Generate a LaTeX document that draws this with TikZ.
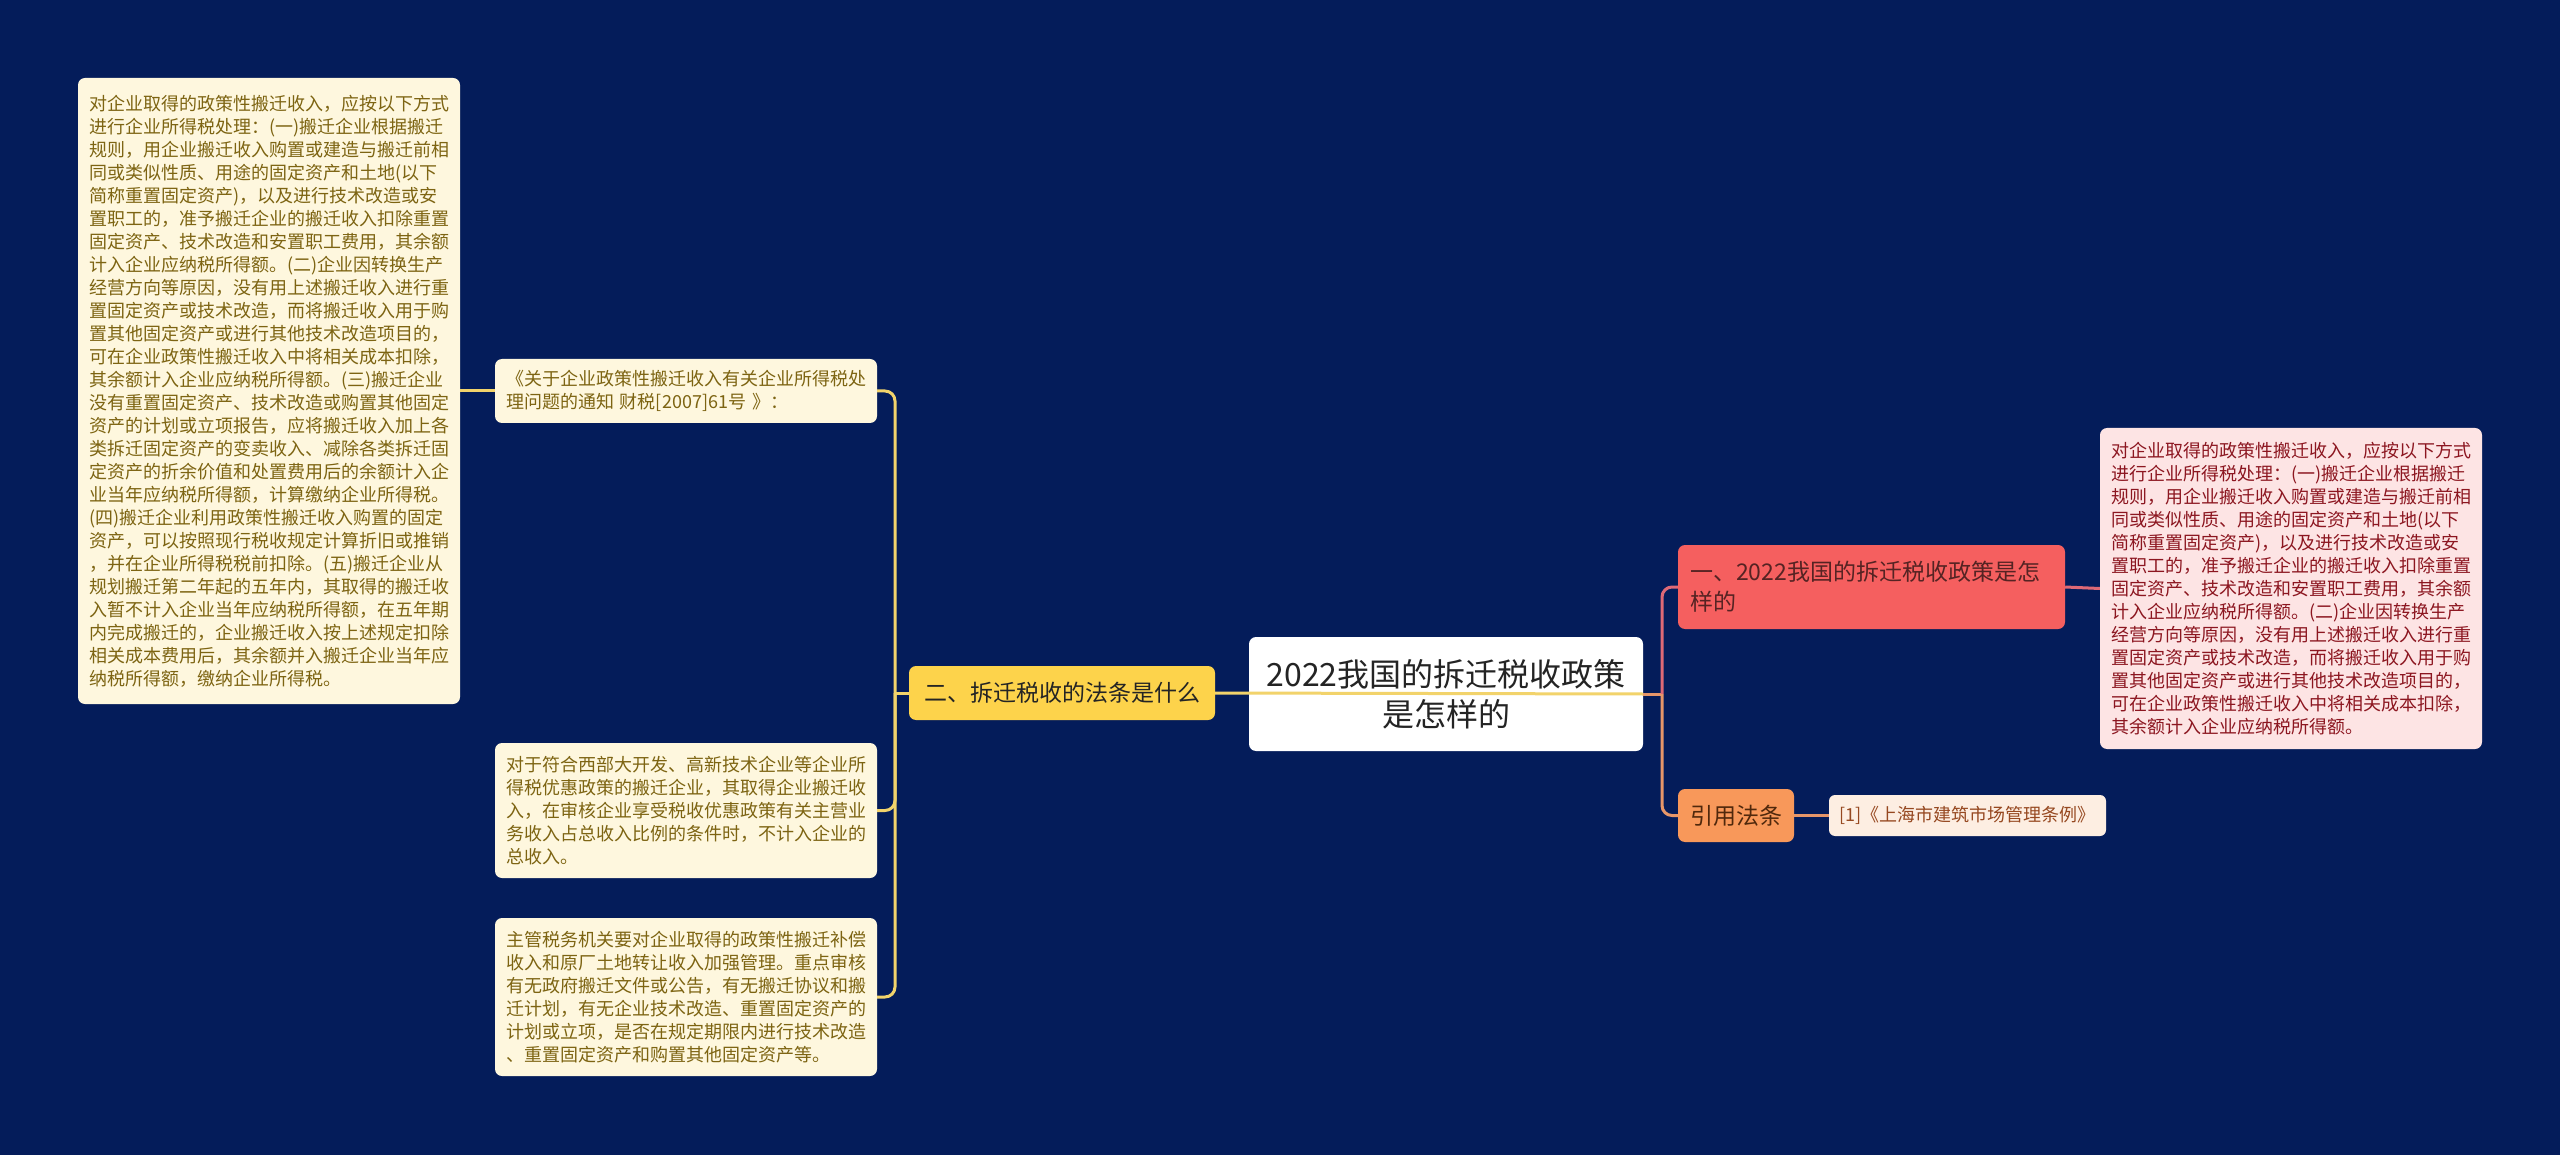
\documentclass[tikz,border=0pt]{standalone}
\usepackage{fontspec}
\setmainfont{Noto Sans CJK SC}
\definecolor{bgnavy}{RGB}{4,28,90}
\definecolor{leafbg}{RGB}{254,247,222}
\definecolor{leaftext}{RGB}{125,100,18}
\definecolor{ylwfill}{RGB}{253,211,75}
\definecolor{ylwline}{RGB}{242,211,107}
\definecolor{redfill}{RGB}{245,95,95}
\definecolor{redtext}{RGB}{85,35,35}
\definecolor{pinkfill}{RGB}{253,228,228}
\definecolor{pinktext}{RGB}{140,22,32}
\definecolor{orgfill}{RGB}{248,152,90}
\definecolor{orgtext}{RGB}{80,40,12}
\definecolor{reffill}{RGB}{253,238,226}
\definecolor{reftext}{RGB}{150,72,32}
\definecolor{redline}{RGB}{222,105,118}
\definecolor{orgline}{RGB}{230,150,105}
\definecolor{darktext}{RGB}{36,36,36}
\tikzset{
  box/.style={rectangle, rounded corners=7pt, inner ysep=0pt},
  leaf/.style={box, fill=leafbg, text=leaftext, font=\fontsize{18}{23}\selectfont,
    align=left, inner xsep=11pt, text width=360pt},
  ycon/.style={draw=ylwline, line width=3pt},
  rcon/.style={draw=redline, line width=3pt},
  ocon/.style={draw=orgline, line width=3pt},
}
\begin{document}
\begin{tikzpicture}[x=1pt,y=-1pt]
\useasboundingbox (0,0) rectangle (2560,1155);
\fill[bgnavy] (0,0) rectangle (2560,1155);

% left side
\node[leaf, minimum height=626pt] (big) at (269,391) {对企业取得的政策性搬迁收入，应按以下方式\\
进行企业所得税处理：(一)搬迁企业根据搬迁\\
规则，用企业搬迁收入购置或建造与搬迁前相\\
同或类似性质、用途的固定资产和土地(以下\\
简称重置固定资产)，以及进行技术改造或安\\
置职工的，准予搬迁企业的搬迁收入扣除重置\\
固定资产、技术改造和安置职工费用，其余额\\
计入企业应纳税所得额。(二)企业因转换生产\\
经营方向等原因，没有用上述搬迁收入进行重\\
置固定资产或技术改造，而将搬迁收入用于购\\
置其他固定资产或进行其他技术改造项目的，\\
可在企业政策性搬迁收入中将相关成本扣除，\\
其余额计入企业应纳税所得额。(三)搬迁企业\\
没有重置固定资产、技术改造或购置其他固定\\
资产的计划或立项报告，应将搬迁收入加上各\\
类拆迁固定资产的变卖收入、减除各类拆迁固\\
定资产的折余价值和处置费用后的余额计入企\\
业当年应纳税所得额，计算缴纳企业所得税。\\
(四)搬迁企业利用政策性搬迁收入购置的固定\\
资产，可以按照现行税收规定计算折旧或推销\\
，并在企业所得税税前扣除。(五)搬迁企业从\\
规划搬迁第二年起的五年内，其取得的搬迁收\\
入暂不计入企业当年应纳税所得额，在五年期\\
内完成搬迁的，企业搬迁收入按上述规定扣除\\
相关成本费用后，其余额并入搬迁企业当年应\\
纳税所得额，缴纳企业所得税。};

\node[leaf, minimum height=64pt] (guan) at (686,391) {《关于企业政策性搬迁收入有关企业所得税处\\
理问题的通知 财税[2007]61号 》：};

\node[leaf, minimum height=135pt] (duiyu) at (686,810.5) {对于符合西部大开发、高新技术企业等企业所\\
得税优惠政策的搬迁企业，其取得企业搬迁收\\
入，在审核企业享受税收优惠政策有关主营业\\
务收入占总收入比例的条件时，不计入企业的\\
总收入。};

\node[leaf, minimum height=158pt] (zhuguan) at (686,997) {主管税务机关要对企业取得的政策性搬迁补偿\\
收入和原厂土地转让收入加强管理。重点审核\\
有无政府搬迁文件或公告，有无搬迁协议和搬\\
迁计划，有无企业技术改造、重置固定资产的\\
计划或立项，是否在规定期限内进行技术改造\\
、重置固定资产和购置其他固定资产等。};

\node[box, fill=ylwfill, text=darktext, font=\fontsize{23}{28}\selectfont,
  minimum width=306pt, minimum height=54pt] (er) at (1062,693) {二、拆迁税收的法条是什么};

% center
\node[box, fill=white, text=darktext, font=\fontsize{32}{40}\selectfont, align=center,
  minimum width=394pt, minimum height=114pt] (root) at (1446,694) {2022我国的拆迁税收政策\\是怎样的};

% right side
\node[box, fill=redfill, text=redtext, font=\fontsize{23}{30}\selectfont, align=left,
  text width=363pt, inner xsep=12pt, minimum height=84pt] (one) at (1871.5,587) {一、2022我国的拆迁税收政策是怎\\样的};

\node[box, fill=pinkfill, text=pinktext, font=\fontsize{18}{23}\selectfont, align=left,
  text width=360pt, inner xsep=11pt, minimum height=321pt] (pink) at (2291,588.5) {对企业取得的政策性搬迁收入，应按以下方式\\
进行企业所得税处理：(一)搬迁企业根据搬迁\\
规则，用企业搬迁收入购置或建造与搬迁前相\\
同或类似性质、用途的固定资产和土地(以下\\
简称重置固定资产)，以及进行技术改造或安\\
置职工的，准予搬迁企业的搬迁收入扣除重置\\
固定资产、技术改造和安置职工费用，其余额\\
计入企业应纳税所得额。(二)企业因转换生产\\
经营方向等原因，没有用上述搬迁收入进行重\\
置固定资产或技术改造，而将搬迁收入用于购\\
置其他固定资产或进行其他技术改造项目的，\\
可在企业政策性搬迁收入中将相关成本扣除，\\
其余额计入企业应纳税所得额。};

\node[box, fill=orgfill, text=orgtext, font=\fontsize{23}{28}\selectfont,
  minimum width=116pt, minimum height=53pt] (yinyong) at (1736,815.5) {引用法条};

\node[box, rounded corners=6pt, fill=reffill, text=reftext, font=\fontsize{18}{22}\selectfont,
  minimum width=277pt, minimum height=41pt] (ref) at (1967.5,815.5) {[1]《上海市建筑市场管理条例》};

% connectors
\coordinate (ybus) at (895,693);
\coordinate (rbus) at (1662,694);
\draw[ycon] (root.east) -- (er.east);
\draw[ycon] (er.west) -- (ybus);
\draw[ycon, rounded corners=10pt] (guan.east) -| (ybus);
\draw[ycon, rounded corners=10pt] (duiyu.east) -| (ybus);
\draw[ycon, rounded corners=10pt] (zhuguan.east) -| (ybus);
\draw[ycon] (big.east) -- (guan.west);

\draw[ocon] (root.east) -- (rbus);
\draw[rcon, rounded corners=10pt] (one.west) -| (rbus);
\draw[ocon, rounded corners=10pt] (yinyong.west) -| (rbus);
\draw[rcon] (one.east) -- (pink.west);
\draw[ocon] (yinyong.east) -- (ref.west);
\end{tikzpicture}
\end{document}
